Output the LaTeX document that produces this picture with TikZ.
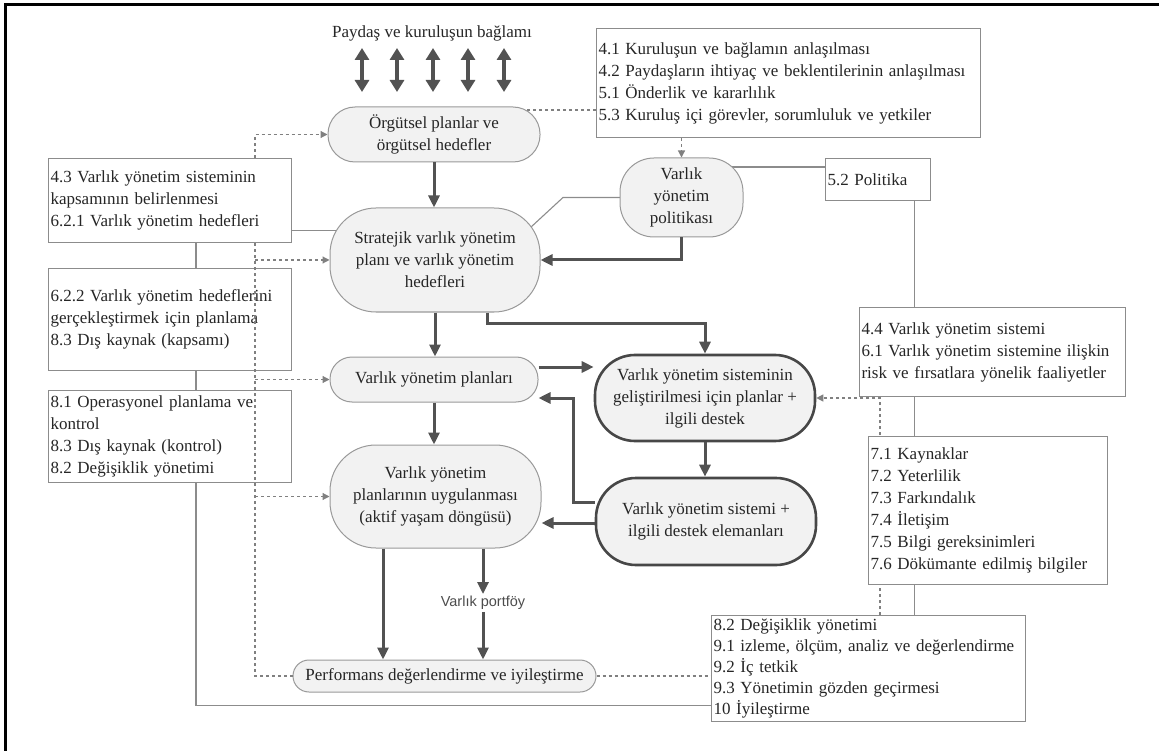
\documentclass[tikz,border=0pt]{standalone}
\usepackage{fontspec}
\setmainfont{Liberation Serif}
\newfontfamily\portfont{Liberation Sans}
\usetikzlibrary{arrows.meta,backgrounds}

\tikzset{
  soft/.style={draw=black!40, line width=1pt, fill=black!5, rounded corners=#1, inner sep=0pt, align=center},
  hard/.style={draw=black!72, line width=2.6pt, fill=black!5, rounded corners=40pt, inner sep=0pt, align=center},
  clause/.style={draw=black!45, line width=1.1pt, fill=white, anchor=north west, inner xsep=2pt, inner ysep=0pt, align=left},
  flow/.style={draw=black!68, line width=3pt, -{Triangle[width=11pt,length=12pt]}},
  twoway/.style={draw=black!68, line width=4pt, {Triangle[width=14pt,length=12pt]}-{Triangle[width=14pt,length=12pt]}},
  link/.style={draw=black!45, line width=1.1pt},
  hint/.style={draw=black!50, line width=1.2pt, dash pattern=on 3pt off 3pt},
  hinttip/.style={hint, -{Triangle[width=7pt,length=7pt]}},
}

\begin{document}
\begin{tikzpicture}[x=1pt, y=-1pt, every node/.style={font=\fontsize{17}{22}\selectfont, text=black!85}]
    \useasboundingbox (0,0) rectangle (1159,751);
    \draw[line width=3pt] (1159,5) -- (5,5) -- (5,751);

    % context
    \node (ctx) at (432,33) {Paydaş ve kuruluşun bağlamı};
    \foreach \x [count=\i] in {362,397,433,468,504} {
        \coordinate (up\i) at (\x,48);
        \coordinate (dn\i) at (\x,92);
        \draw[twoway] (up\i) -- (dn\i);
    }

    % main chain
    \node[soft=27pt, minimum width=212pt, minimum height=55pt] (org) at (434,134.5) {Örgütsel planlar ve\\örgütsel hedefler};
    \node[soft=46pt, minimum width=210pt, minimum height=104pt] (strat) at (435,260) {Stratejik varlık yönetim\\planı ve varlık yönetim\\hedefleri};
    \node[soft=34pt, minimum width=123pt, minimum height=79pt] (pol) at (681.5,197.5) {Varlık\\yönetim\\politikası};
    \node[soft=22pt, minimum width=208pt, minimum height=45pt] (plans) at (434,379.5) {Varlık yönetim planları};
    \node[soft=46pt, minimum width=211pt, minimum height=103pt] (impl) at (435.5,496.5) {Varlık yönetim\\planlarının uygulanması\\(aktif yaşam döngüsü)};
    \node[soft=16pt, minimum width=303pt, minimum height=32pt] (perf) at (444.5,676) {Performans değerlendirme ve iyileştirme};
    \node[hard, minimum width=220pt, minimum height=86pt] (dev) at (705,398) {Varlık yönetim sisteminin\\geliştirilmesi için planlar +\\ilgili destek};
    \node[hard, minimum width=220pt, minimum height=87pt] (sys) at (706,521.5) {Varlık yönetim sistemi +\\ilgili destek elemanları};

    % clauses
    \node[clause, text width=380pt, minimum height=109pt] (b41) at (596,28) {4.1 Kuruluşun ve bağlamın anlaşılması\\4.2 Paydaşların ihtiyaç ve beklentilerinin anlaşılması\\5.1 Önderlik ve kararlılık\\5.3 Kuruluş içi görevler, sorumluluk ve yetkiler};
    \node[clause, text width=239pt, minimum height=84pt] (b43) at (48,158) {4.3 Varlık yönetim sisteminin\\kapsamının belirlenmesi\\6.2.1 Varlık yönetim hedefleri};
    \node[clause, text width=239pt, minimum height=102pt] (b622) at (48,268) {6.2.2 Varlık yönetim hedeflerini\\gerçekleştirmek için planlama\\8.3 Dış kaynak (kapsamı)};
    \node[clause, text width=239pt, minimum height=92pt] (b81) at (48,390) {8.1 Operasyonel planlama ve\\kontrol\\8.3 Dış kaynak (kontrol)\\8.2 Değişiklik yönetimi};
    \node[clause, text width=101pt, minimum height=42pt] (b52) at (825,158) {5.2 Politika};
    \node[clause, text width=262pt, minimum height=89pt] (b44) at (859,307) {4.4 Varlık yönetim sistemi\\6.1 Varlık yönetim sistemine ilişkin\\risk ve fırsatlara yönelik faaliyetler};
    \node[clause, text width=235pt, minimum height=148pt] (b7x) at (868,436) {7.1 Kaynaklar\\7.2 Yeterlilik\\7.3 Farkındalık\\7.4 İletişim\\7.5 Bilgi gereksinimleri\\7.6 Dökümante edilmiş bilgiler};
    \node[clause, text width=310pt, minimum height=106pt, font=\fontsize{17}{21}\selectfont] (b82) at (711,615) {8.2 Değişiklik yönetimi\\9.1 izleme, ölçüm, analiz ve değerlendirme\\9.2 İç tetkik\\9.3 Yönetimin gözden geçirmesi\\10 İyileştirme};

    % thin and dotted links
    \begin{scope}[on background layer]
        \coordinate (l1) at ([yshift=-30pt]b43.east);
        \draw[link] (l1) -- (l1 -| strat.center);
        \draw[link] (pol.center) -- ++(-118.5,0) -- ([shift={(-10,20)}]strat.north east);
        \coordinate (l2) at ([yshift=-9pt]b52.north west);
        \draw[link] (l2) -- (l2 -| pol.center);
        \coordinate (l3) at ([xshift=-17pt]b52.south east);
        \draw[link] (l3) -- (l3 |- b82.north);
        \coordinate (l4) at ([xshift=148pt]b43.south west);
        \coordinate (l5) at ([yshift=-37pt]b82.west);
        \draw[link] (l4) |- (l5);
        \coordinate (d1) at ([yshift=-82pt]b41.north west);
        \draw[hint] (d1) -- (d1 -| org.center);
        \draw[hinttip] (pol.north |- b41.south) -- (pol.north);
        \coordinate (d4) at ([xshift=169pt]b82.north west);
        \draw[hinttip] (d4) |- (dev.east);
        \draw[hint] (perf.east) -- (perf.east -| b82.west);
    \end{scope}
    \coordinate (d2) at ([xshift=207pt]b43.north west);
    \coordinate (d3) at ([xshift=207pt]b43.south west);
    \draw[hinttip] (d2) |- (org.west);
    \draw[hint] (d3) |- (perf.west);
    \foreach \n in {strat,plans,impl}
        \draw[hinttip] (d3 |- \n.west) -- (\n.west);

    % thick arrows
    \draw[flow] (org.south) -- (org.south |- strat.north);
    \draw[flow] (pol.south) |- (strat.east);
    \draw[flow] (strat.south) -- (strat.south |- plans.north);
    \draw[flow] ([xshift=52pt]strat.south) -- ++(0,11) -| (dev.north);
    \coordinate (f1) at ([yshift=12.5pt]plans.east);
    \draw[flow] (f1) -- (f1 -| dev.west);
    \draw[flow] (plans.south) -- (plans.south |- impl.north);
    \draw[flow] (dev.south) -- (dev.south |- sys.north);
    \coordinate (f2) at ([yshift=19.5pt]sys.west);
    \coordinate (f3) at ([yshift=-18.5pt]plans.east);
    \draw[flow] (f2) -- ++(-21,0) |- (f3);
    \coordinate (f4) at ([yshift=-1.5pt]sys.west);
    \draw[flow] (f4) -- (f4 -| impl.east);
    \coordinate (f5) at ([xshift=-52.5pt]impl.south);
    \draw[flow] (f5) -- (f5 |- perf.north);
    \node[font=\portfont\fontsize{14.5}{16}\selectfont, text=black!70, inner sep=2pt] (port) at (483,603) {Varlık portföy};
    \draw[flow] (impl.south -| port) -- (port);
    \draw[flow] (port) -- (port |- perf.north);
\end{tikzpicture}
\end{document}
